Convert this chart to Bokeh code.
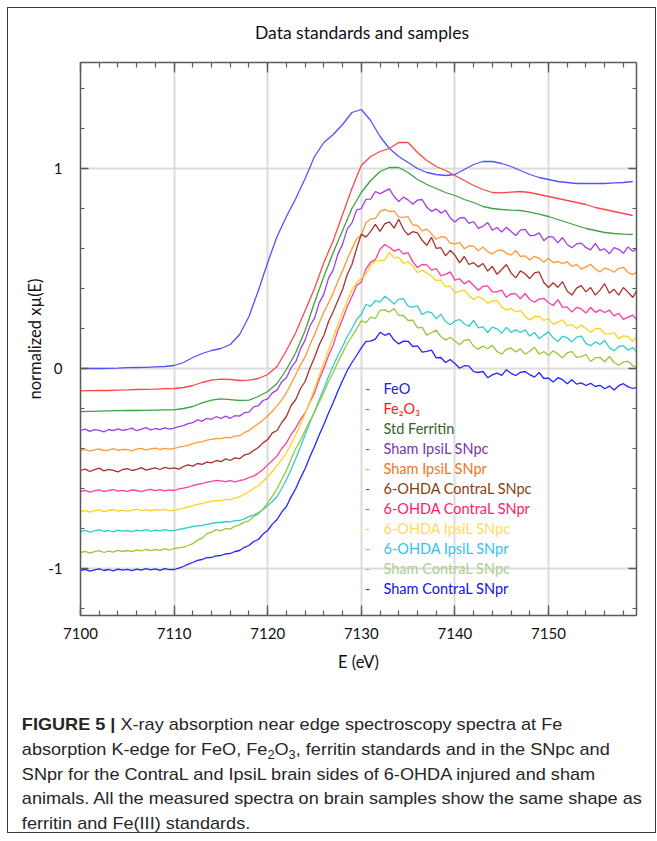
from bokeh.plotting import figure
from bokeh.models import Range1d, LinearAxis, SingleIntervalTicker, ColumnDataSource, Div
from bokeh.layouts import column
from bokeh.core.properties import value
from bokeh.embed import file_html
from bokeh.resources import INLINE

# ---------------- data ----------------
E_std = [7100 + i for i in range(60)]          # 1 eV steps, 7100..7159
E_smp = [7100 + 0.5 * i for i in range(120)]   # 0.5 eV steps, 7100..7159.5

feo = [0.000, 0.000, 0.000, 0.001, 0.002, 0.004, 0.005, 0.006, 0.008, 0.010,
       0.015, 0.030, 0.055, 0.075, 0.090, 0.100, 0.120, 0.170, 0.260, 0.390,
       0.530, 0.660, 0.760, 0.850, 0.950, 1.060, 1.130, 1.170, 1.220, 1.280,
       1.295, 1.240, 1.160, 1.100, 1.060, 1.030, 1.000, 0.980, 0.970, 0.965,
       0.970, 0.995, 1.020, 1.035, 1.035, 1.025, 1.010, 0.990, 0.970, 0.955,
       0.945, 0.935, 0.930, 0.925, 0.925, 0.925, 0.925, 0.928, 0.930, 0.935]

fe2o3 = [-0.112, -0.111, -0.110, -0.110, -0.108, -0.107, -0.105, -0.104, -0.103, -0.101,
         -0.100, -0.095, -0.085, -0.070, -0.058, -0.053, -0.055, -0.060, -0.058, -0.050,
         -0.030, 0.010, 0.090, 0.180, 0.290, 0.400, 0.530, 0.640, 0.770, 0.900,
         1.015, 1.060, 1.085, 1.100, 1.130, 1.130, 1.080, 1.040, 1.010, 0.990,
         0.965, 0.940, 0.915, 0.895, 0.880, 0.878, 0.882, 0.885, 0.880, 0.870,
         0.860, 0.850, 0.840, 0.830, 0.820, 0.805, 0.795, 0.785, 0.775, 0.765]

ferritin = [-0.215, -0.214, -0.213, -0.212, -0.211, -0.210, -0.210, -0.209, -0.208, -0.207,
            -0.207, -0.200, -0.190, -0.172, -0.158, -0.152, -0.156, -0.160, -0.158, -0.140,
            -0.115, -0.075, -0.005, 0.080, 0.190, 0.330, 0.460, 0.580, 0.690, 0.800,
            0.880, 0.940, 0.985, 1.005, 1.005, 0.980, 0.945, 0.920, 0.900, 0.880,
            0.865, 0.845, 0.830, 0.810, 0.800, 0.795, 0.792, 0.790, 0.782, 0.772,
            0.760, 0.745, 0.730, 0.715, 0.700, 0.690, 0.680, 0.675, 0.672, 0.670]

sham_ipsi_snpc = [-0.310, -0.303, -0.314, -0.306, -0.309, -0.317, -0.305, -0.311, -0.302, -0.309,
                  -0.305, -0.298, -0.311, -0.303, -0.296, -0.307, -0.300, -0.306, -0.297, -0.303,
                  -0.298, -0.291, -0.286, -0.276, -0.271, -0.257, -0.263, -0.249, -0.254, -0.241,
                  -0.250, -0.238, -0.249, -0.236, -0.238, -0.221, -0.218, -0.192, -0.186, -0.160,
                  -0.152, -0.122, -0.108, -0.066, -0.046, 0.004, 0.034, 0.098, 0.142, 0.212,
                  0.252, 0.328, 0.372, 0.452, 0.493, 0.572, 0.622, 0.698, 0.728, 0.792,
                  0.800, 0.846, 0.847, 0.885, 0.874, 0.887, 0.898, 0.860, 0.835, 0.857,
                  0.843, 0.821, 0.842, 0.845, 0.806, 0.786, 0.798, 0.777, 0.791, 0.753,
                  0.733, 0.753, 0.754, 0.726, 0.735, 0.701, 0.711, 0.730, 0.691, 0.705,
                  0.682, 0.706, 0.685, 0.665, 0.692, 0.696, 0.664, 0.666, 0.678, 0.639,
                  0.659, 0.657, 0.628, 0.655, 0.620, 0.604, 0.623, 0.627, 0.604, 0.593,
                  0.626, 0.591, 0.598, 0.574, 0.604, 0.596, 0.576, 0.608, 0.586, 0.600]

sham_ipsi_snpr = [-0.410, -0.404, -0.413, -0.407, -0.402, -0.411, -0.408, -0.401, -0.409, -0.404,
                  -0.406, -0.412, -0.403, -0.399, -0.407, -0.402, -0.398, -0.405, -0.399, -0.403,
                  -0.400, -0.393, -0.389, -0.384, -0.376, -0.369, -0.366, -0.358, -0.354, -0.350,
                  -0.351, -0.344, -0.347, -0.338, -0.336, -0.321, -0.311, -0.292, -0.276, -0.258,
                  -0.236, -0.214, -0.186, -0.158, -0.121, -0.076, -0.031, 0.018, 0.058, 0.118,
                  0.168, 0.228, 0.282, 0.328, 0.378, 0.438, 0.488, 0.548, 0.598, 0.648,
                  0.668, 0.729, 0.747, 0.751, 0.784, 0.796, 0.785, 0.788, 0.757, 0.756,
                  0.759, 0.718, 0.715, 0.688, 0.697, 0.673, 0.646, 0.659, 0.655, 0.627,
                  0.623, 0.630, 0.599, 0.613, 0.612, 0.589, 0.607, 0.584, 0.573, 0.589,
                  0.593, 0.577, 0.567, 0.590, 0.560, 0.563, 0.542, 0.561, 0.551, 0.531,
                  0.551, 0.529, 0.535, 0.524, 0.534, 0.510, 0.521, 0.497, 0.508, 0.521,
                  0.496, 0.483, 0.502, 0.495, 0.481, 0.501, 0.506, 0.480, 0.469, 0.486]

ohda_contra_snpc = [-0.510, -0.503, -0.515, -0.506, -0.498, -0.512, -0.504, -0.509, -0.517, -0.505,
                    -0.501, -0.510, -0.504, -0.496, -0.508, -0.502, -0.497, -0.505, -0.494, -0.501,
                    -0.497, -0.503, -0.490, -0.482, -0.488, -0.475, -0.479, -0.468, -0.472, -0.460,
                    -0.466, -0.452, -0.460, -0.447, -0.451, -0.432, -0.427, -0.410, -0.395, -0.372,
                    -0.355, -0.322, -0.310, -0.270, -0.240, -0.185, -0.155, -0.100, -0.065, 0.000,
                    0.055, 0.118, 0.165, 0.235, 0.285, 0.340, 0.395, 0.470, 0.520, 0.600,
                    0.672, 0.657, 0.686, 0.721, 0.686, 0.723, 0.733, 0.702, 0.746, 0.696,
                    0.668, 0.684, 0.678, 0.641, 0.616, 0.656, 0.601, 0.604, 0.563, 0.591,
                    0.567, 0.528, 0.560, 0.520, 0.529, 0.508, 0.525, 0.487, 0.511, 0.471,
                    0.495, 0.520, 0.478, 0.453, 0.488, 0.474, 0.449, 0.478, 0.483, 0.430,
                    0.405, 0.429, 0.406, 0.434, 0.386, 0.367, 0.402, 0.414, 0.383, 0.405,
                    0.367, 0.392, 0.424, 0.376, 0.396, 0.367, 0.405, 0.382, 0.355, 0.396]

ohda_contra_snpr = [-0.615, -0.609, -0.618, -0.612, -0.607, -0.615, -0.611, -0.605, -0.613, -0.609,
                    -0.614, -0.607, -0.610, -0.616, -0.608, -0.604, -0.611, -0.606, -0.612, -0.607,
                    -0.610, -0.602, -0.598, -0.593, -0.585, -0.579, -0.575, -0.568, -0.564, -0.559,
                    -0.562, -0.566, -0.561, -0.567, -0.560, -0.556, -0.545, -0.538, -0.523, -0.505,
                    -0.482, -0.460, -0.437, -0.400, -0.372, -0.330, -0.297, -0.255, -0.222, -0.170,
                    -0.122, -0.055, 0.002, 0.065, 0.118, 0.190, 0.248, 0.310, 0.360, 0.415,
                    0.432, 0.498, 0.532, 0.544, 0.596, 0.620, 0.606, 0.587, 0.597, 0.573,
                    0.579, 0.533, 0.505, 0.520, 0.518, 0.492, 0.500, 0.464, 0.471, 0.483,
                    0.442, 0.449, 0.423, 0.439, 0.415, 0.391, 0.411, 0.413, 0.383, 0.383,
                    0.392, 0.356, 0.374, 0.373, 0.349, 0.375, 0.345, 0.331, 0.347, 0.351,
                    0.329, 0.315, 0.344, 0.307, 0.307, 0.282, 0.306, 0.298, 0.277, 0.305,
                    0.281, 0.293, 0.280, 0.292, 0.263, 0.276, 0.246, 0.257, 0.267, 0.240]

ohda_ipsi_snpc = [-0.715, -0.709, -0.718, -0.711, -0.707, -0.716, -0.710, -0.705, -0.713, -0.708,
                  -0.714, -0.708, -0.703, -0.711, -0.706, -0.712, -0.705, -0.709, -0.703, -0.711,
                  -0.710, -0.703, -0.699, -0.692, -0.686, -0.679, -0.675, -0.668, -0.664, -0.659,
                  -0.661, -0.654, -0.656, -0.648, -0.641, -0.630, -0.616, -0.600, -0.586, -0.565,
                  -0.540, -0.515, -0.484, -0.455, -0.420, -0.378, -0.330, -0.280, -0.225, -0.165,
                  -0.100, -0.035, 0.030, 0.095, 0.155, 0.220, 0.280, 0.340, 0.392, 0.430,
                  0.451, 0.471, 0.516, 0.538, 0.539, 0.542, 0.580, 0.553, 0.557, 0.525,
                  0.534, 0.512, 0.479, 0.492, 0.477, 0.461, 0.440, 0.442, 0.409, 0.412,
                  0.378, 0.386, 0.393, 0.364, 0.345, 0.360, 0.347, 0.326, 0.338, 0.339,
                  0.307, 0.292, 0.301, 0.283, 0.291, 0.260, 0.243, 0.259, 0.261, 0.240,
                  0.248, 0.222, 0.231, 0.244, 0.213, 0.220, 0.200, 0.217, 0.200, 0.181,
                  0.199, 0.200, 0.174, 0.173, 0.180, 0.149, 0.163, 0.160, 0.136, 0.162]

ohda_ipsi_snpr = [-0.815, -0.809, -0.818, -0.812, -0.806, -0.815, -0.810, -0.817, -0.808, -0.813,
                  -0.810, -0.816, -0.808, -0.812, -0.806, -0.813, -0.808, -0.812, -0.806, -0.811,
                  -0.810, -0.804, -0.800, -0.796, -0.790, -0.787, -0.785, -0.779, -0.775, -0.770,
                  -0.770, -0.765, -0.767, -0.761, -0.760, -0.752, -0.741, -0.733, -0.721, -0.705,
                  -0.686, -0.665, -0.640, -0.600, -0.556, -0.505, -0.450, -0.392, -0.330, -0.272,
                  -0.215, -0.158, -0.100, -0.040, 0.015, 0.065, 0.110, 0.160, 0.200, 0.245,
                  0.271, 0.320, 0.311, 0.340, 0.332, 0.361, 0.345, 0.322, 0.347, 0.348,
                  0.312, 0.307, 0.313, 0.269, 0.284, 0.279, 0.248, 0.272, 0.235, 0.219,
                  0.238, 0.245, 0.224, 0.210, 0.241, 0.203, 0.208, 0.180, 0.207, 0.198,
                  0.176, 0.206, 0.181, 0.193, 0.180, 0.193, 0.162, 0.180, 0.149, 0.167,
                  0.183, 0.153, 0.135, 0.162, 0.153, 0.133, 0.157, 0.162, 0.126, 0.114,
                  0.133, 0.120, 0.141, 0.105, 0.088, 0.110, 0.114, 0.091, 0.105, 0.078]

sham_contra_snpc = [-0.920, -0.914, -0.923, -0.916, -0.911, -0.920, -0.913, -0.918, -0.909, -0.915,
                    -0.910, -0.916, -0.907, -0.912, -0.905, -0.911, -0.904, -0.909, -0.902, -0.907,
                    -0.900, -0.897, -0.893, -0.885, -0.876, -0.858, -0.848, -0.826, -0.818, -0.806,
                    -0.812, -0.800, -0.803, -0.789, -0.782, -0.768, -0.762, -0.740, -0.728, -0.702,
                    -0.672, -0.638, -0.602, -0.555, -0.510, -0.452, -0.400, -0.358, -0.310, -0.262,
                    -0.220, -0.168, -0.120, -0.065, -0.020, 0.032, 0.078, 0.125, 0.160, 0.198,
                    0.239, 0.229, 0.257, 0.250, 0.291, 0.293, 0.282, 0.300, 0.266, 0.265,
                    0.240, 0.242, 0.203, 0.206, 0.166, 0.179, 0.192, 0.160, 0.142, 0.156,
                    0.137, 0.119, 0.141, 0.145, 0.111, 0.097, 0.112, 0.099, 0.116, 0.085,
                    0.072, 0.096, 0.103, 0.083, 0.098, 0.071, 0.086, 0.106, 0.072, 0.085,
                    0.065, 0.089, 0.072, 0.053, 0.079, 0.084, 0.056, 0.059, 0.070, 0.035,
                    0.054, 0.056, 0.034, 0.060, 0.030, 0.016, 0.032, 0.036, 0.014, 0.005]

sham_contra_snpr = [-1.010, -1.004, -1.013, -1.007, -1.002, -1.010, -1.005, -1.012, -1.003, -1.008,
                    -1.004, -1.011, -1.003, -1.008, -1.001, -1.007, -1.002, -1.009, -1.001, -1.006,
                    -1.005, -0.998, -0.990, -0.978, -0.970, -0.959, -0.955, -0.946, -0.945, -0.937,
                    -0.935, -0.927, -0.925, -0.915, -0.910, -0.894, -0.885, -0.865, -0.855, -0.828,
                    -0.810, -0.778, -0.755, -0.718, -0.690, -0.642, -0.600, -0.548, -0.500, -0.442,
                    -0.390, -0.332, -0.280, -0.222, -0.170, -0.112, -0.060, -0.010, 0.030, 0.065,
                    0.103, 0.136, 0.137, 0.147, 0.181, 0.166, 0.176, 0.142, 0.123, 0.137,
                    0.136, 0.110, 0.113, 0.082, 0.086, 0.092, 0.053, 0.055, 0.030, 0.045,
                    0.025, 0.001, 0.014, 0.012, -0.016, -0.020, -0.015, -0.046, -0.032, -0.023,
                    -0.034, -0.006, -0.024, -0.035, -0.019, -0.015, -0.031, -0.043, -0.020, -0.050,
                    -0.048, -0.068, -0.046, -0.056, -0.076, -0.056, -0.078, -0.072, -0.085, -0.074,
                    -0.090, -0.084, -0.101, -0.088, -0.107, -0.086, -0.076, -0.092, -0.100, -0.093]

names = ["FeO", "Fe\u2082O\u2083", "Std Ferritin", "Sham IpsiL SNpc", "Sham IpsiL SNpr",
         "6-OHDA ContraL SNpc", "6-OHDA ContraL SNpr", "6-OHDA IpsiL SNpc",
         "6-OHDA IpsiL SNpr", "Sham ContraL SNpc", "Sham ContraL SNpr"]
series = [(E_std, feo), (E_std, fe2o3), (E_std, ferritin),
          (E_smp, sham_ipsi_snpc), (E_smp, sham_ipsi_snpr), (E_smp, ohda_contra_snpc),
          (E_smp, ohda_contra_snpr), (E_smp, ohda_ipsi_snpc), (E_smp, ohda_ipsi_snpr),
          (E_smp, sham_contra_snpc), (E_smp, sham_contra_snpr)]
y_tick_labels = {-1: "-1", 0: "0", 1: "1"}
title_text = "Data standards and samples"

# ---------------- styles ----------------
line_colors = ["#5252ff", "#ff4747", "#3fa33f", "#a23de0", "#ff9a33", "#a8322c",
               "#ff3d9e", "#ffd21f", "#33cccc", "#98c83a", "#2424ff"]
text_colors = ["#2222e8", "#ff1a1a", "#3b5e2e", "#7a35a8", "#f0761e", "#8a3d12",
               "#ff1a6a", "#ffd966", "#33c2f0", "#a9d18e", "#1010f0"]
FONT = "Lato"
AXC = "#5a5a5a"

title_div = Div(
    text=('<div style="font-family: Lato, sans-serif; font-size: 17.5px; line-height: 22px; '
          'color: #111111; text-align: center; padding: 14px 0 0 61px; width: 647px; '
          'box-sizing: border-box;">' + title_text + '</div>'),
    width=647, height=36, margin=0)

p = figure(width=647, height=645, x_range=Range1d(7100, 7159.4), y_range=Range1d(-1.235, 1.53),
           output_backend="svg", toolbar_location=None,
           min_border_left=72, min_border_right=19, min_border_top=18, min_border_bottom=74)
p.outline_line_color = AXC
p.background_fill_color = "white"
p.border_fill_color = "white"

xt = SingleIntervalTicker(interval=10, num_minor_ticks=5)
yt = SingleIntervalTicker(interval=1, num_minor_ticks=5)

p.xaxis.ticker = xt
p.yaxis.ticker = yt
p.yaxis.major_label_overrides = y_tick_labels
p.xaxis.axis_label = "E (eV)"
p.yaxis.axis_label = "normalized x\u00b5(E)"

for ax in [p.xaxis[0], p.yaxis[0]]:
    ax.axis_line_color = AXC
    ax.axis_line_width = 1.5
    ax.major_tick_line_color = AXC
    ax.minor_tick_line_color = AXC
    ax.major_tick_line_width = 1.3
    ax.minor_tick_line_width = 1.2
    ax.major_tick_out = 0
    ax.minor_tick_out = 0
    ax.major_label_text_font = FONT
    ax.major_label_text_font_size = "15px"
    ax.major_label_text_color = "#111111"
    ax.axis_label_text_font = FONT
    ax.axis_label_text_font_size = "16.5px"
    ax.axis_label_text_font_style = "normal"
    ax.axis_label_text_color = "#111111"

p.xaxis.major_tick_in = 10
p.xaxis.minor_tick_in = 5
p.xaxis.major_label_standoff = 12
p.xaxis.axis_label_standoff = 10
p.yaxis.major_tick_in = 8
p.yaxis.minor_tick_in = 4
p.yaxis.major_label_standoff = 18
p.yaxis.axis_label_standoff = 0

top = LinearAxis(ticker=SingleIntervalTicker(interval=10, num_minor_ticks=5))
right = LinearAxis(ticker=SingleIntervalTicker(interval=1, num_minor_ticks=5))
for ax, mt, nt in [(top, 10, 5), (right, 8, 4)]:
    ax.axis_line_color = AXC
    ax.axis_line_width = 1.5
    ax.major_tick_line_color = AXC
    ax.minor_tick_line_color = AXC
    ax.major_tick_line_width = 1.3
    ax.minor_tick_line_width = 1.2
    ax.major_tick_out = 0
    ax.minor_tick_out = 0
    ax.major_tick_in = mt
    ax.minor_tick_in = nt
    ax.major_label_text_color = None
    ax.major_label_text_font_size = "1px"
    ax.major_label_standoff = 0
p.add_layout(top, "above")
p.add_layout(right, "right")

p.xgrid.ticker = xt
p.ygrid.ticker = yt
p.xgrid.grid_line_color = "#dcdcdc"
p.ygrid.grid_line_color = "#dcdcdc"
p.xgrid.grid_line_width = 2
p.ygrid.grid_line_width = 2

for (xs, ys), c in zip(series, line_colors):
    p.line(xs, ys, line_color=c, line_width=1.3)

# legend (coloured dash + coloured text)
leg = ColumnDataSource(dict(
    name=names,
    tcol=text_colors,
    lcol=line_colors,
    y=[-0.1 * (i + 1) for i in range(len(names))],
    xd=[7130.66] * len(names),
    xt=[7132.37] * len(names),
    dash=["-"] * len(names),
))
p.text(x="xd", y="y", text="dash", source=leg, text_color="lcol", text_font=value(FONT),
       text_font_size="14px", text_align="center", text_baseline="middle")
p.text(x="xt", y="y", text="name", source=leg, text_color="tcol", text_font=value(FONT),
       text_font_size="14.5px", text_align="left", text_baseline="middle")

SUB = 'style="font-size:12px; position:relative; top:4px; line-height:0;"'
caption_html = (
    '<div style="font-family: \'Liberation Sans\', Arial, sans-serif; font-size: 17px; '
    'line-height: 24.8px; color: #262626; padding: 24px 0 0 13px; white-space: nowrap; '
    'transform: scaleX(1.065); transform-origin: 0 0;">'
    '<b>FIGURE 5 |</b> X-ray absorption near edge spectroscopy spectra at Fe<br>'
    'absorption K-edge for FeO, Fe<span ' + SUB + '>2</span>O<span ' + SUB + '>3</span>, '
    'ferritin standards and in the SNpc and<br>'
    'SNpr for the ContraL and IpsiL brain sides of 6-OHDA injured and sham<br>'
    'animals. All the measured spectra on brain samples show the same shape as<br>'
    'ferritin and Fe(III) standards.</div>'
)
caption = Div(text=caption_html, width=647, height=143, margin=0)

layout = column(title_div, p, caption, spacing=0, margin=(7, 0, 0, 7),
                styles={"border": "1px solid #3a3a3a"})

open("out.html", "w").write(file_html(layout, INLINE))
